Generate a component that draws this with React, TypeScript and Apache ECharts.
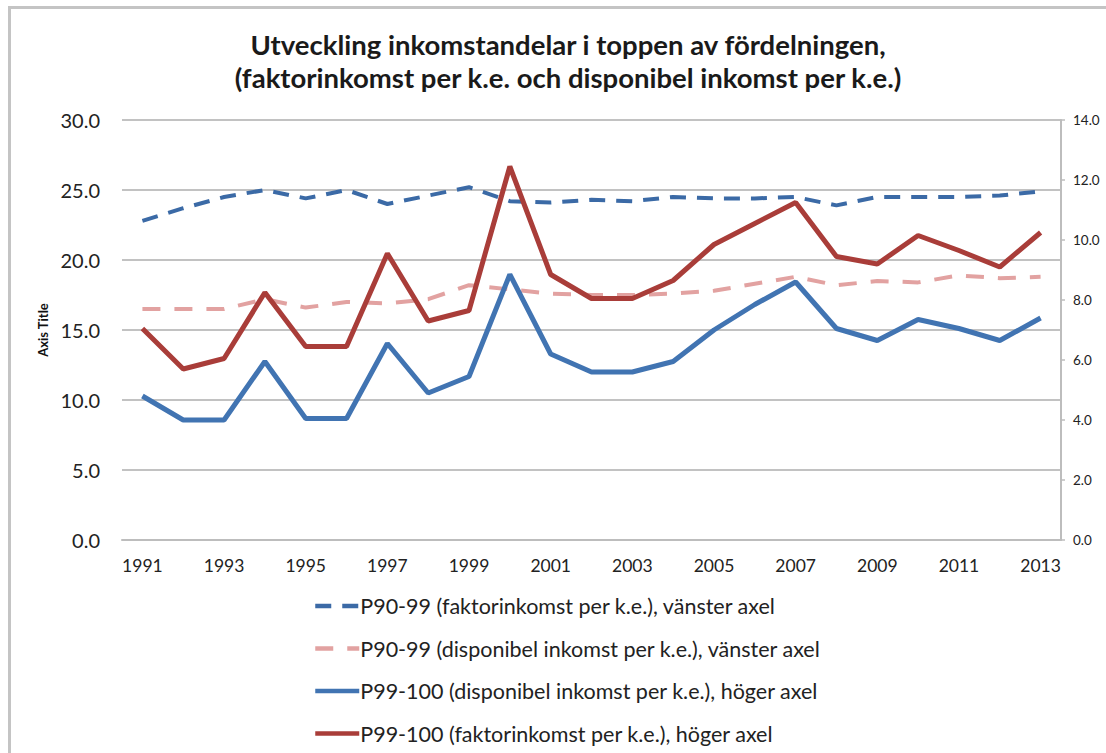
import React, { useEffect, useRef } from "react";
import * as echarts from "echarts";

const years = ["1991","1992","1993","1994","1995","1996","1997","1998","1999","2000","2001","2002","2003","2004","2005","2006","2007","2008","2009","2010","2011","2012","2013"];

const p9099Faktor = [22.8, 23.7, 24.5, 25.0, 24.4, 25.0, 24.0, 24.6, 25.2, 24.2, 24.1, 24.3, 24.2, 24.5, 24.4, 24.4, 24.5, 23.9, 24.5, 24.5, 24.5, 24.6, 24.9];
const p9099Disp = [16.5, 16.5, 16.5, 17.2, 16.6, 17.0, 16.9, 17.2, 18.2, 17.9, 17.6, 17.5, 17.5, 17.6, 17.8, 18.3, 18.8, 18.2, 18.5, 18.4, 18.9, 18.7, 18.8];
const p99100Disp = [4.8, 4.0, 4.0, 5.95, 4.05, 4.05, 6.55, 4.9, 5.45, 8.85, 6.2, 5.6, 5.6, 5.95, 7.0, 7.85, 8.6, 7.05, 6.65, 7.35, 7.05, 6.65, 7.4];
const p99100Faktor = [7.05, 5.7, 6.05, 8.25, 6.45, 6.45, 9.55, 7.3, 7.65, 12.45, 8.85, 8.05, 8.05, 8.65, 9.85, 10.55, 11.25, 9.45, 9.2, 10.15, 9.65, 9.1, 10.25];

const leftTicks = { min: 0, max: 30, interval: 5 };
const rightTicks = { min: 0, max: 14, interval: 2 };

const names = [
  "P90-99 (faktorinkomst per k.e.), vänster axel",
  "P90-99 (disponibel inkomst per k.e.), vänster axel",
  "P99-100 (disponibel inkomst per k.e.), höger axel",
  "P99-100 (faktorinkomst per k.e.), höger axel",
];

const FONT = "Lato, 'Noto Sans', sans-serif";

export default function App() {
  const ref = useRef<HTMLDivElement>(null);
  useEffect(() => {
    if (!ref.current) return;
    const chart = echarts.init(ref.current, undefined, { renderer: "svg" });
    chart.setOption({
      animation: false,
      backgroundColor: "#ffffff",
      title: {
        text: "Utveckling inkomstandelar i toppen av fördelningen,\n(faktorinkomst per k.e. och disponibel inkomst per k.e.)",
        left: 563,
        top: 23,
        textAlign: "center",
        textStyle: { fontFamily: FONT, fontWeight: "bold", fontSize: 27.5, lineHeight: 33, color: "#1a1a1a" },
      },
      graphic: [
        { type: "line", shape: { x1: 8, y1: 7.5, x2: 1106, y2: 7.5 }, style: { stroke: "#c4c4c4", lineWidth: 3 } },
        { type: "line", shape: { x1: 9.5, y1: 6, x2: 9.5, y2: 753 }, style: { stroke: "#c4c4c4", lineWidth: 3 } },
      ],
      grid: { left: 122, right: 45, top: 120, bottom: 213, containLabel: false },
      legend: {
        orient: "vertical",
        left: 308,
        top: 590,
        itemWidth: 44,
        itemHeight: 14,
        itemGap: 20.5,
        itemStyle: { opacity: 0 },
        lineStyle: { width: 4.5 },
        textStyle: { fontFamily: FONT, fontSize: 21.5, color: "#222", lineHeight: 20, padding: [0, 0, 0, -4] },
        data: names,
      },
      xAxis: {
        type: "category",
        data: years,
        boundaryGap: true,
        axisLine: { show: true, lineStyle: { color: "#bdbdbd", width: 2 } },
        axisTick: { show: false },
        axisLabel: { interval: 1, fontFamily: FONT, fontSize: 17.5, color: "#222", margin: 16 },
      },
      yAxis: [
        {
          type: "value",
          min: leftTicks.min,
          max: leftTicks.max,
          interval: leftTicks.interval,
          name: "Axis Title",
          nameLocation: "middle",
          nameRotate: 90,
          nameGap: 71,
          nameTextStyle: { fontFamily: FONT, fontWeight: "bold", fontSize: 13, color: "#111" },
          axisLine: { show: false },
          axisTick: { show: false },
          splitLine: { show: true, lineStyle: { color: "#c2c2c2", width: 2 } },
          axisLabel: { fontFamily: FONT, fontSize: 20, color: "#222", margin: 22, formatter: (v: number) => v.toFixed(1) },
        },
        {
          type: "value",
          min: rightTicks.min,
          max: rightTicks.max,
          interval: rightTicks.interval,
          position: "right",
          axisLine: { show: true, lineStyle: { color: "#bdbdbd", width: 2 } },
          axisTick: { show: true, length: 4, lineStyle: { color: "#bdbdbd", width: 1.5 } },
          splitLine: { show: false },
          axisLabel: { fontFamily: FONT, fontSize: 13.5, color: "#222", margin: 12, formatter: (v: number) => v.toFixed(1) },
        },
      ],
      series: [
        {
          name: names[0], type: "line", yAxisIndex: 0, data: p9099Faktor, symbol: "none",
          lineStyle: { color: "#3b6aa6", width: 4, type: [16, 11] }, itemStyle: { color: "#3b6aa6" },
        },
        {
          name: names[1], type: "line", yAxisIndex: 0, data: p9099Disp, symbol: "none",
          lineStyle: { color: "#e2a2a1", width: 4, type: [18, 14] }, itemStyle: { color: "#e2a2a1" },
        },
        {
          name: names[2], type: "line", yAxisIndex: 1, data: p99100Disp, symbol: "none",
          lineStyle: { color: "#4174b2", width: 5 }, itemStyle: { color: "#4174b2" },
        },
        {
          name: names[3], type: "line", yAxisIndex: 1, data: p99100Faktor, symbol: "none",
          lineStyle: { color: "#a93d39", width: 5 }, itemStyle: { color: "#a93d39" },
        },
      ],
    });
    return () => chart.dispose();
  }, []);
  return <div ref={ref} style={{ position: "fixed", left: 0, top: 0, width: 1106, height: 753 }} />;
}
